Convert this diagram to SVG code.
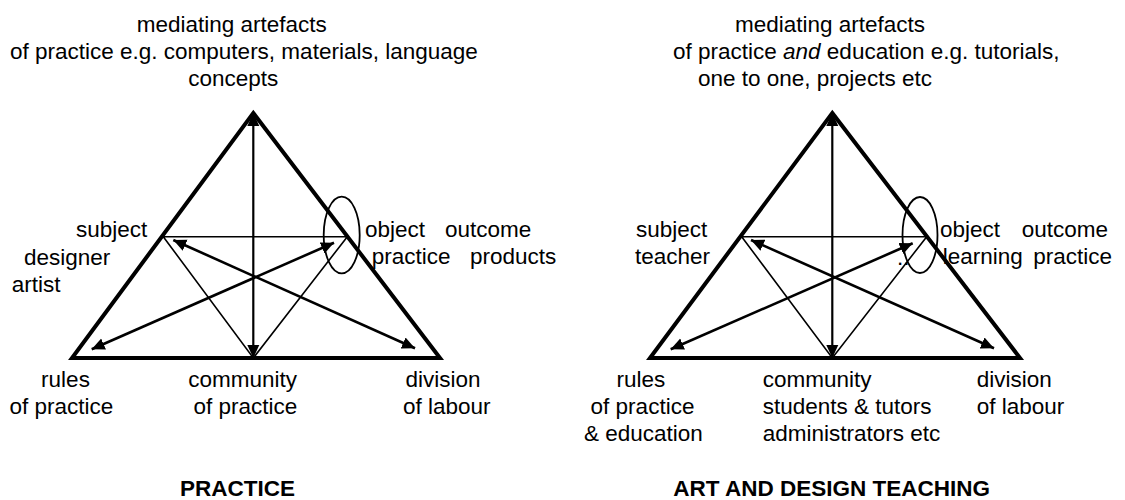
<svg xmlns="http://www.w3.org/2000/svg" width="1125" height="500" viewBox="0 0 1125 500">
<defs>
<style>
text{font-family:"Liberation Sans",Arial,sans-serif;font-size:22.5px;fill:#000}
.c{text-anchor:middle}
.t{font-weight:bold;text-anchor:middle}
.tri{fill:none;stroke:#000;stroke-width:4;stroke-linejoin:miter}
.thin{fill:none;stroke:#000;stroke-width:1.6}
.arr{fill:none;stroke:#000;stroke-width:2.6;marker-start:url(#ah);marker-end:url(#ah)}
.vert{fill:none;stroke:#000;stroke-width:2.2;marker-start:url(#ah);marker-end:url(#ah)}
.ell{fill:none;stroke:#000;stroke-width:1.8}
</style>
<marker id="ah" markerUnits="userSpaceOnUse" markerWidth="16" markerHeight="14" refX="13" refY="6" orient="auto-start-reverse" viewBox="0 0 16 12">
<path d="M0,0 L13,6 L0,12 z" fill="#000"/>
</marker>
</defs>
<rect width="1125" height="500" fill="#fff"/>

<g id="connectors">
<!-- left diagram -->
<polygon class="tri" points="253.3,113 440,358 72,358"/>
<polyline class="thin" points="163.3,236.7 347.3,236.7 253.3,358 163.3,236.7"/>
<line class="vert" x1="253.3" y1="113" x2="253.3" y2="358"/>
<line class="arr" x1="91.7" y1="349.3" x2="334" y2="242.7"/>
<line class="arr" x1="173.3" y1="240" x2="415" y2="348.3"/>
<ellipse class="ell" cx="341.7" cy="235" rx="18" ry="38.3"/>
<!-- right diagram -->
<polygon class="tri" points="832.3,113 1020,358 650,358"/>
<polyline class="thin" points="741.7,236.7 926.7,236.7 832.3,358 741.7,236.7"/>
<line class="vert" x1="832.3" y1="113" x2="832.3" y2="358"/>
<line class="arr" x1="670.7" y1="349.3" x2="912.7" y2="243.3"/>
<line class="arr" x1="751" y1="240" x2="994" y2="348.3"/>
<ellipse class="ell" cx="920" cy="235" rx="17.5" ry="38"/>
</g>

<g id="left-mediating">
<text x="136.7" y="32">mediating artefacts</text>
<text x="10" y="59">of practice e.g. computers, materials, language</text>
<text x="188.3" y="86">concepts</text>
</g>
<g id="left-subject">
<text x="76" y="237">subject</text>
<text x="24" y="265">designer</text>
<text x="11.7" y="292">artist</text>
</g>
<g id="left-object">
<text y="237"><tspan x="365">object</tspan><tspan x="445">outcome</tspan></text>
<text y="264"><tspan x="371.7">practice</tspan><tspan x="470">products</tspan></text>
</g>
<g id="left-rules">
<text class="c" x="65.5" y="387">rules</text>
<text class="c" x="61.3" y="414">of practice</text>
</g>
<g id="left-community">
<text class="c" x="242.7" y="387">community</text>
<text class="c" x="245.3" y="414">of practice</text>
</g>
<g id="left-division">
<text class="c" x="443" y="387">division</text>
<text class="c" x="446.7" y="414">of labour</text>
</g>
<g id="left-title">
<text class="t" x="237.5" y="496">PRACTICE</text>
</g>

<g id="right-mediating">
<text x="735" y="32">mediating artefacts</text>
<text x="673" y="59">of practice <tspan font-style="italic">and</tspan> education e.g. tutorials,</text>
<text x="698" y="86">one to one, projects etc</text>
</g>
<g id="right-subject">
<text x="636" y="237">subject</text>
<text x="635" y="264">teacher</text>
</g>
<g id="right-object">
<text y="237"><tspan x="940">object</tspan><tspan x="1021.7">outcome</tspan></text>
<text x="897" y="265">..</text>
<text y="264"><tspan x="942.7">learning</tspan><tspan x="1033.3">practice</tspan></text>
</g>
<g id="right-rules">
<text class="c" x="640.8" y="387">rules</text>
<text class="c" x="642.5" y="414">of practice</text>
<text class="c" x="643.3" y="441">&amp; education</text>
</g>
<g id="right-community">
<text x="762.7" y="387">community</text>
<text x="762.7" y="414">students &amp; tutors</text>
<text x="762.7" y="441">administrators etc</text>
</g>
<g id="right-division">
<text x="976.7" y="387">division</text>
<text x="976.7" y="414">of labour</text>
</g>
<g id="right-title">
<text class="t" x="831.7" y="496">ART AND DESIGN TEACHING</text>
</g>
</svg>
